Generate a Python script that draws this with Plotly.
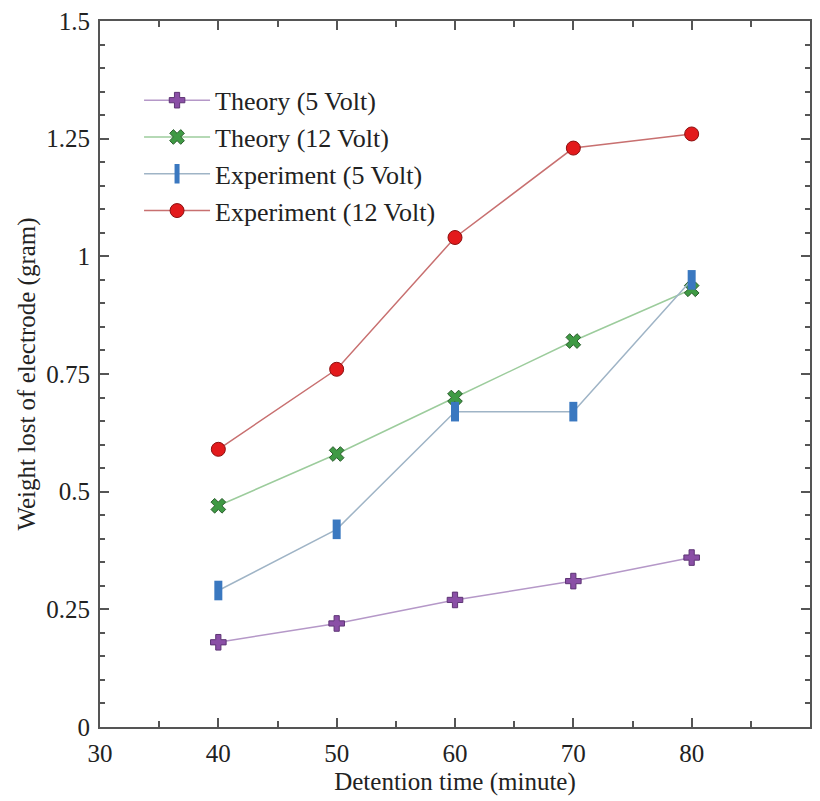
import plotly.graph_objects as go

x_minutes = [40, 50, 60, 70, 80]
theory_5v = [0.18, 0.22, 0.27, 0.31, 0.36]
theory_12v = [0.47, 0.58, 0.70, 0.82, 0.93]
exp_5v = [0.29, 0.42, 0.67, 0.67, 0.95]
exp_12v = [0.59, 0.76, 1.04, 1.23, 1.26]

names = ["Theory (5 Volt)", "Theory (12 Volt)", "Experiment (5 Volt)", "Experiment (12 Volt)"]

fig = go.Figure()
fig.add_trace(go.Scatter(
    x=x_minutes, y=theory_5v, name=names[0], mode="lines+markers",
    line=dict(color="#b598c8", width=1.5),
    marker=dict(symbol="cross", size=13, color="#8a4fa6", line=dict(color="#5e3575", width=1))))
fig.add_trace(go.Scatter(
    x=x_minutes, y=theory_12v, name=names[1], mode="lines+markers",
    line=dict(color="#9ccc9c", width=1.5),
    marker=dict(symbol="x", size=13, color="#3f9a44", line=dict(color="#2c5e2e", width=1))))
fig.add_trace(go.Scatter(
    x=x_minutes, y=exp_5v, name=names[2], mode="lines+markers",
    line=dict(color="#9fb4c6", width=1.5),
    marker=dict(symbol="line-ns", size=14, color="#3a78c0", line=dict(color="#3a78c0", width=8))))
fig.add_trace(go.Scatter(
    x=x_minutes, y=exp_12v, name=names[3], mode="lines+markers",
    line=dict(color="#c87070", width=1.5),
    marker=dict(symbol="circle", size=14, color="#e31a1c", line=dict(color="#8b1010", width=1))))

axis_common = dict(
    showline=True, linecolor="#555555", linewidth=2, mirror="ticks",
    ticks="inside", ticklen=9, tickcolor="#555555", tickwidth=1.5,
    showgrid=False, zeroline=False, ticklabelstandoff=3,
    tickfont=dict(family="Liberation Serif", size=25, color="#222222"),
)

fig.update_xaxes(
    range=[30, 90], dtick=10, tick0=30,
    minor=dict(dtick=5, ticks="inside", ticklen=6, tickcolor="#555555", showgrid=False),
    title=dict(text="Detention time (minute)", font=dict(family="Liberation Serif", size=25, color="#222222"), standoff=6),
    **axis_common)
fig.update_yaxes(
    range=[0, 1.5], dtick=0.25, tick0=0,
    minor=dict(dtick=0.05, ticks="inside", ticklen=5, tickcolor="#555555", showgrid=False),
    title=dict(text="Weight lost of electrode (gram)", font=dict(family="Liberation Serif", size=25, color="#222222"), standoff=4),
    **axis_common)

fig.update_layout(
    width=820, height=801,
    margin=dict(l=100, r=8, t=17, b=74),
    plot_bgcolor="white", paper_bgcolor="white",
    legend=dict(x=0.055, y=0.921, xanchor="left", yanchor="top",
                font=dict(family="Liberation Serif", size=26, color="#222222"),
                bgcolor="rgba(0,0,0,0)", itemwidth=66, tracegroupgap=0),
)

fig.write_html("out.html")
